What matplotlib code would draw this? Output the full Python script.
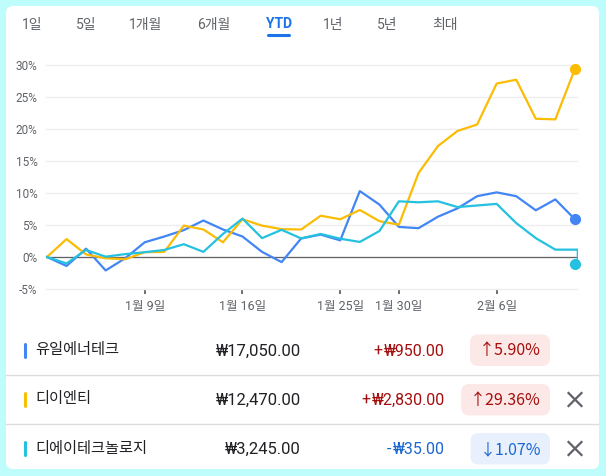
import matplotlib
matplotlib.use("Agg")
import matplotlib.pyplot as plt
from matplotlib.patches import FancyBboxPatch

plt.rcParams['font.family'] = ['Roboto', 'Noto Sans CJK KR', 'DejaVu Sans']
KR = ['Noto Sans CJK KR', 'DejaVu Sans']

# --- data (YTD % change per trading day) ---
tabs = ["1일", "5일", "1개월", "6개월", "YTD", "1년", "5년", "최대"]
selected_tab = "YTD"

tick_idx = [5, 10, 15, 18, 23]
tick_labels = ["1월 9일", "1월 16일", "1월 25일", "1월 30일", "2월 6일"]

yuil = [0, -1.4, 1.3, -2.1, -0.2, 2.3, 3.2, 4.2, 5.7, 4.3, 3.2, 0.8, -0.8, 2.9,
        3.5, 2.6, 10.3, 8.2, 4.7, 4.5, 6.3, 7.6, 9.5, 10.1, 9.5, 7.3, 9.0, 5.90]
dient = [0, 2.8, 0.4, -0.2, -0.35, 0.75, 0.8, 4.9, 4.3, 2.3, 5.9, 4.9, 4.35, 4.3,
         6.45, 5.9, 7.35, 5.6, 5.05, 13.1, 17.35, 19.7, 20.7, 27.1, 27.7, 21.6, 21.5, 29.36]
dia = [0, -1.0, 1.1, 0.05, 0.45, 0.75, 1.1, 2.0, 0.8, 3.6, 6.0, 2.95, 4.25, 2.9,
       3.6, 2.86, 2.35, 4.05, 8.7, 8.55, 8.7, 7.8, 8.05, 8.3, 5.3, 2.95, 1.15, 1.15]
dia_close = -1.07

names = ["유일에너테크", "디이엔티", "디에이테크놀로지"]
prices = ["₩17,050.00", "₩12,470.00", "₩3,245.00"]
changes = ["+₩950.00", "+₩2,830.00", "-₩35.00"]
pcts = [5.90, 29.36, -1.07]
removable = [False, True, True]
colors = ["#4285f4", "#fbbc04", "#24c1e0"]

# --- layout (pixels) ---
W, H = 606, 476
GRAY = "#5f6368"
UP, UP_BG = "#a50e0e", "#fce8e6"
DOWN, DOWN_BG = "#1a66d2", "#e8f0fe"

fig = plt.figure(figsize=(W / 100, H / 100), dpi=100, facecolor="#bffcfc")

# background axes in pixel coordinates, origin top-left
bg = fig.add_axes([0, 0, 1, 1])
bg.set_xlim(0, W)
bg.set_ylim(H, 0)
bg.axis("off")
bg.add_patch(FancyBboxPatch((6, 6), 593, 463, boxstyle="round,pad=0,rounding_size=7",
                            fc="white", ec="none"))

# range tabs
tab_x = [32.5, 86.6, 146, 214, 278.6, 333.6, 387, 444.6]
for tx, label in zip(tab_x, tabs):
    if label == selected_tab:
        bg.text(tx, 24.5, label, ha="center", va="center", fontsize=10,
                color="#1a73e8", fontweight="bold")
        bg.plot([tx - 10.5, tx + 10.5], [35.4, 35.4], color="#1a73e8", lw=2.2,
                solid_capstyle="round")
    else:
        bg.text(tx, 24.5, label, ha="center", va="center", fontsize=10, color=GRAY)

# chart
ax = fig.add_axes([46 / W, 1 - 294 / H, 532 / W, 234 / H])
ax.patch.set_alpha(0)
px_per_pct = 6.4
zero_y = 257
ax.set_xlim(-0.05, 27.16)
ax.set_ylim((zero_y - 294) / px_per_pct, (zero_y - 60) / px_per_pct)
for s in ax.spines.values():
    s.set_visible(False)

yt = list(range(-5, 31, 5))
ax.set_yticks(yt)
ax.set_yticklabels([f"{v}%" for v in yt])
ax.grid(axis="y", color="#eeeeee", lw=1)
ax.set_axisbelow(True)
ax.axhline(0, color=GRAY, lw=0.9, zorder=1)

ax.set_xticks(tick_idx)
ax.set_xticklabels(tick_labels)
ax.tick_params(axis="y", length=0, pad=6, labelsize=8.5, labelcolor=GRAY)
ax.tick_params(axis="x", direction="in", length=3.5, width=1.3, color=GRAY,
               pad=4, labelsize=9, labelcolor=GRAY)

x = list(range(len(yuil)))
ax.plot(x, yuil, color=colors[0], lw=1.6, zorder=3)
ax.plot(x, dient, color=colors[1], lw=1.6, zorder=3)
# last day drops straight down to the closing value
ax.plot(x + [x[-1] + 0.15, x[-1] + 0.15], dia + [dia[-1], dia_close],
        color=colors[2], lw=1.6, zorder=3)

for series_end, c in zip([yuil[-1], dient[-1], dia_close], colors):
    ax.plot(x[-1], series_end, "o", ms=7, color=c, clip_on=False, zorder=4)

# table of holdings
row_y = [350, 399.5, 448.5]
for sep in [375, 424]:
    bg.plot([6, 598], [sep, sep], color="#dadce0", lw=1)

pct_texts = []
amount_texts = []
for i in range(len(names)):
    y = row_y[i]
    bg.plot([24.5, 24.5], [y - 6.5, y + 6.5], color=colors[i], lw=2.2,
            solid_capstyle="round")
    bg.text(35.6, y, names[i], ha="left", va="center", fontsize=11, color="#202124")
    bg.text(301, y + 1, prices[i], ha="right", va="center", fontsize=12,
            color="#202124")
    up = pcts[i] > 0
    col = UP if up else DOWN
    # sign is placed separately, the ₩ glyph collides with it otherwise
    a = bg.text(445, y + 1, changes[i][1:], ha="right", va="center", fontsize=11.5,
                color=col)
    amount_texts.append((a, changes[i][0], col, y))
    arrow = "↑" if up else "↓"
    t = bg.text(541, y + 1, f"{arrow}{abs(pcts[i]):.2f}%", ha="right", va="center",
                fontsize=11.5, color=col, family=KR, zorder=3)
    pct_texts.append((t, up, y))
    if removable[i]:
        bg.plot([568.5, 581.5], [y - 6.5, y + 6.5], color=GRAY, lw=1.6)
        bg.plot([568.5, 581.5], [y + 6.5, y - 6.5], color=GRAY, lw=1.6)

# pills sized to their text, signs put in front of the amounts
fig.canvas.draw()
renderer = fig.canvas.get_renderer()
for t, up, y in pct_texts:
    bb = t.get_window_extent(renderer)
    x0 = bb.x0 - 9
    bg.add_patch(FancyBboxPatch((x0, y - 15.5), 550 - x0, 31.5,
                                boxstyle="round,pad=0,rounding_size=8",
                                fc=UP_BG if up else DOWN_BG, ec="none", zorder=2))
for a, sign, col, y in amount_texts:
    bb = a.get_window_extent(renderer)
    bg.text(bb.x0 - 1.5, y + 1, sign, ha="right", va="center", fontsize=11.5,
            color=col)

fig.savefig("out.png", dpi=100, facecolor=fig.get_facecolor())
